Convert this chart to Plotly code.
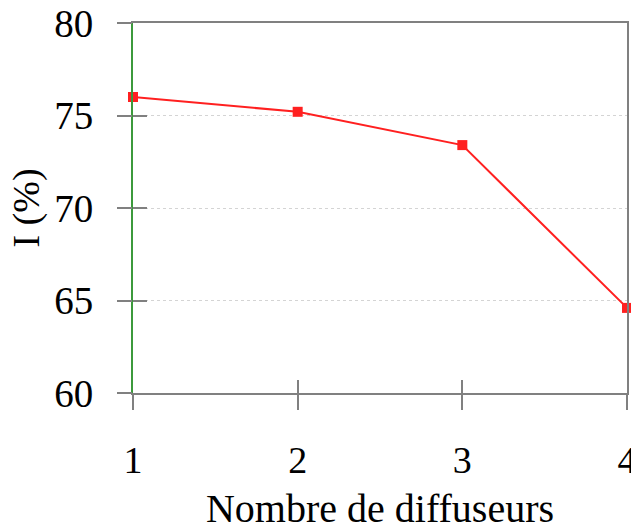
import plotly.graph_objects as go

# Number of diffusers vs. intensity I (%)
diffuseurs = [1, 2, 3, 4]
intensite = [76.0, 75.2, 73.4, 64.6]
y_ticks = [60, 65, 70, 75, 80]
x_ticks = [1, 2, 3, 4]

FONT = "Liberation Serif"
GRAY = "#808080"
GREEN = "#3c9a3c"
RED = "#ff2020"

fig = go.Figure()
fig.add_trace(go.Scatter(
    x=diffuseurs, y=intensite, mode="lines+markers",
    line=dict(color=RED, width=2),
    marker=dict(symbol="square", size=10, color=RED),
    cliponaxis=False, showlegend=False, xaxis="x", yaxis="y",
))
# invisible copy so the overlay axes (inner ticks, right border) get drawn
fig.add_trace(go.Scatter(
    x=diffuseurs, y=intensite, mode="lines", opacity=0,
    showlegend=False, hoverinfo="skip", xaxis="x2", yaxis="y2",
))
fig.add_trace(go.Scatter(
    x=diffuseurs, y=intensite, mode="lines", opacity=0,
    showlegend=False, hoverinfo="skip", xaxis="x", yaxis="y3",
))

fig.update_layout(
    width=631, height=531,
    margin=dict(l=133, r=4, t=23, b=138, autoexpand=False),
    paper_bgcolor="white", plot_bgcolor="white",
    font=dict(family=FONT, color="black"),
    xaxis=dict(
        range=[1, 4], tickvals=x_ticks, ticks="outside", ticklen=15,
        tickcolor=GRAY, tickwidth=1.5, showline=True, linecolor=GRAY, linewidth=1.5,
        mirror=True, showgrid=False, zeroline=False, automargin=False,
        tickfont=dict(family=FONT, size=38), ticklabelstandoff=18,
        ticklabeloverflow="allow",
        title=dict(text="Nombre de diffuseurs", font=dict(family=FONT, size=40), standoff=14),
    ),
    xaxis2=dict(
        range=[1, 4], tickvals=x_ticks, ticks="inside", ticklen=13,
        tickcolor=GRAY, tickwidth=1.5, showticklabels=False, showline=False,
        showgrid=False, zeroline=False, overlaying="x", side="bottom",
    ),
    yaxis=dict(
        range=[60, 80], tickvals=y_ticks, ticks="outside", ticklen=15,
        tickcolor=GRAY, tickwidth=1.5, showline=False,
        showgrid=True, gridcolor="#d4d4d4", griddash="dot", gridwidth=1,
        zeroline=False, automargin=False,
        tickfont=dict(family=FONT, size=39), ticklabelstandoff=16,
        title=dict(text="I (%)", font=dict(family=FONT, size=38), standoff=2),
    ),
    yaxis2=dict(
        range=[60, 80], tickvals=y_ticks, ticks="inside", ticklen=14,
        tickcolor=GRAY, tickwidth=1.5, showticklabels=False,
        showline=True, linecolor=GREEN, linewidth=1.5,
        showgrid=False, zeroline=False, overlaying="y", side="left",
    ),
    yaxis3=dict(
        range=[60, 80], showticklabels=False, ticks="",
        showline=True, linecolor=GRAY, linewidth=1.5,
        showgrid=False, zeroline=False, overlaying="y", side="right",
    ),
)

fig.write_html("out.html")
